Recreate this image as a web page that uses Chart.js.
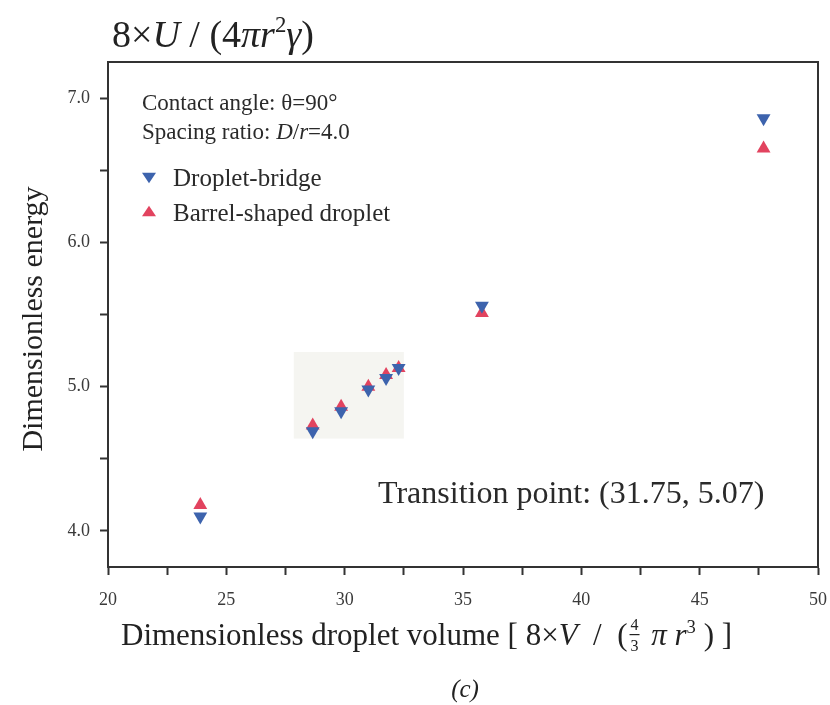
<!DOCTYPE html>
<html>
<head>
<meta charset="utf-8">
<script src="https://cdn.jsdelivr.net/npm/chart.js@4"></script>
<style>
html,body{margin:0;padding:0;background:#fff;}
#wrap{width:830px;height:705px;position:relative;}
</style>
</head>
<body>
<div id="wrap"><canvas id="c" width="830" height="705"></canvas></div>
<script>
// ---- data ----
const bridgeX = [23.9, 28.65, 29.85, 31.0, 31.75, 32.28, 35.8, 47.7];
const bridgeY = [4.10, 4.69, 4.83, 4.98, 5.06, 5.13, 5.56, 6.86];
const barrelX = [23.9, 28.65, 29.85, 31.0, 31.75, 32.28, 35.8, 47.7];
const barrelY = [4.18, 4.73, 4.86, 5.00, 5.08, 5.13, 5.51, 6.65];
const xTicks = [20, 22.5, 25, 27.5, 30, 32.5, 35, 37.5, 40, 42.5, 45, 47.5, 50];
const xTickLabels = ['20', '', '25', '', '30', '', '35', '', '40', '', '45', '', '50'];
const yTicks = [4.0, 4.5, 5.0, 5.5, 6.0, 6.5, 7.0];
const yTickLabels = ['4.0', '', '5.0', '', '6.0', '', '7.0'];
const seriesNames = ['Droplet-bridge', 'Barrel-shaped droplet'];

const BLUE = '#3d63ad';
const RED = '#e2435f';
const SERIF = '"Liberation Serif", "DejaVu Serif", serif';

function rich(ctx, x, y, parts, size, align) {
  const fontFor = (s) => {
    const it = s.indexOf('i') === 0 ? 'italic ' : '';
    const sz = s.indexOf('sup') >= 0 ? size * 0.6 : size;
    return it + sz + 'px ' + SERIF;
  };
  let total = 0;
  parts.forEach(p => { ctx.font = fontFor(p[1]); total += ctx.measureText(p[0]).width; });
  let cx = align === 'center' ? x - total / 2 : x;
  parts.forEach(p => {
    ctx.font = fontFor(p[1]);
    const dy = p[1].indexOf('sup') >= 0 ? -size * 0.4 : 0;
    ctx.fillText(p[0], cx, y + dy);
    cx += ctx.measureText(p[0]).width;
  });
  return total;
}

const decor = {
  id: 'decor',
  beforeDatasetsDraw(chart) {
    const ctx = chart.ctx, xs = chart.scales.x, ys = chart.scales.y;
    ctx.save();
    ctx.fillStyle = '#f5f5f1';
    const x0 = xs.getPixelForValue(27.85), x1 = xs.getPixelForValue(32.5);
    const y0 = ys.getPixelForValue(5.24), y1 = ys.getPixelForValue(4.64);
    ctx.fillRect(x0, y0, x1 - x0, y1 - y0);
    ctx.restore();
  },
  afterDraw(chart) {
    const ctx = chart.ctx, a = chart.chartArea;
    ctx.save();
    ctx.strokeStyle = '#333';
    ctx.lineWidth = 2;
    ctx.strokeRect(a.left, a.top, a.right - a.left, a.bottom - a.top);
    ctx.fillStyle = '#222';
    ctx.textBaseline = 'alphabetic';
    // title
    rich(ctx, 112, 47, [['8×',''],['U','i'],[' / (',''],['4',''],['π','i'],['r','i'],['2','sup'],['γ','i'],[')','']], 38, 'left');
    // x title
    let w = rich(ctx, 121, 645, [['Dimensionless droplet volume [ 8×',''],['V','i'],['  /  (','']], 31, 'left');
    let fx = 121 + w;
    ctx.font = '16px ' + SERIF;
    ctx.textAlign = 'center';
    ctx.fillText('4', fx + 7, 630);
    ctx.fillText('3', fx + 7, 651);
    ctx.fillRect(fx + 2, 634, 10, 1.2);
    ctx.textAlign = 'left';
    rich(ctx, fx + 16, 645, [[' ',''],['π','i'],[' ',''],['r','i'],['3','sup'],[' ) ]','']], 31, 'left');
    // y title
    ctx.save();
    ctx.translate(42, 319);
    ctx.rotate(-Math.PI / 2);
    ctx.font = '30px ' + SERIF;
    ctx.textAlign = 'center';
    ctx.fillText('Dimensionless energy', 0, 0);
    ctx.restore();
    // (c)
    ctx.font = 'italic 25px ' + SERIF;
    ctx.textAlign = 'center';
    ctx.fillText('(c)', 465, 697);
    ctx.textAlign = 'left';
    // annotations
    ctx.fillStyle = '#2a2a2a';
    rich(ctx, 142, 110, [['Contact angle: θ=90°','']], 23, 'left');
    rich(ctx, 142, 139, [['Spacing ratio: ',''],['D','i'],['/',''],['r','i'],['=4.0','']], 23, 'left');
    // legend
    const drawTri = (cx, cy, r, down, col) => {
      ctx.fillStyle = col;
      ctx.beginPath();
      if (down) { ctx.moveTo(cx - r, cy - r * 0.6); ctx.lineTo(cx + r, cy - r * 0.6); ctx.lineTo(cx, cy + r * 0.9); }
      else { ctx.moveTo(cx - r, cy + r * 0.6); ctx.lineTo(cx + r, cy + r * 0.6); ctx.lineTo(cx, cy - r * 0.9); }
      ctx.closePath(); ctx.fill();
    };
    drawTri(149, 177, 7, true, BLUE);
    drawTri(149, 212, 7, false, RED);
    ctx.fillStyle = '#2a2a2a';
    rich(ctx, 173, 186, [[seriesNames[0],'']], 25, 'left');
    rich(ctx, 173, 221, [[seriesNames[1],'']], 25, 'left');
    rich(ctx, 378, 503, [['Transition point: (31.75, 5.07)','']], 32, 'left');
    ctx.restore();
  }
};

const toPts = (xs, ys) => xs.map((x, i) => ({x: x, y: ys[i]}));

new Chart(document.getElementById('c'), {
  type: 'scatter',
  data: {
    datasets: [
      {label: seriesNames[0], data: toPts(bridgeX, bridgeY), pointStyle: 'triangle', rotation: 180,
       pointRadius: 8, pointHoverRadius: 8, backgroundColor: BLUE, borderColor: BLUE, borderWidth: 0},
      {label: seriesNames[1], data: toPts(barrelX, barrelY), pointStyle: 'triangle', rotation: 0,
       pointRadius: 8, pointHoverRadius: 8, backgroundColor: RED, borderColor: RED, borderWidth: 0}
    ]
  },
  options: {
    responsive: false,
    animation: false,
    layout: {padding: {left: 0, right: 0, top: 62, bottom: 0}},
    plugins: {legend: {display: false}, tooltip: {enabled: false}, title: {display: false}},
    scales: {
      x: {
        type: 'linear', min: 20, max: 50,
        afterBuildTicks: (s) => { s.ticks = xTicks.map(v => ({value: v})); },
        afterFit: (s) => { s.height = 705 - 567; s.paddingRight = 12; s.paddingLeft = 0; },
        ticks: {
          autoSkip: false, maxRotation: 0, padding: 14,
          color: '#3a3a3a', font: {family: SERIF, size: 18},
          callback: (v) => { const i = xTicks.indexOf(v); return i >= 0 ? xTickLabels[i] : ''; }
        },
        grid: {drawOnChartArea: false, drawTicks: true, tickLength: 8, tickColor: '#333', tickWidth: 2},
        border: {display: true, color: '#333', width: 2}
      },
      y: {
        type: 'linear', min: 3.75, max: 7.25,
        afterBuildTicks: (s) => { s.ticks = yTicks.map(v => ({value: v})); },
        afterFit: (s) => { s.width = 108; },
        ticks: {
          autoSkip: false, padding: 10,
          color: '#3a3a3a', font: {family: SERIF, size: 18},
          callback: (v) => { const i = yTicks.findIndex(t => Math.abs(t - v) < 1e-9); return i >= 0 ? yTickLabels[i] : ''; }
        },
        grid: {drawOnChartArea: false, drawTicks: true, tickLength: 8, tickColor: '#333', tickWidth: 2},
        border: {display: true, color: '#333', width: 2}
      }
    }
  },
  plugins: [decor]
});
</script>
</body>
</html>
